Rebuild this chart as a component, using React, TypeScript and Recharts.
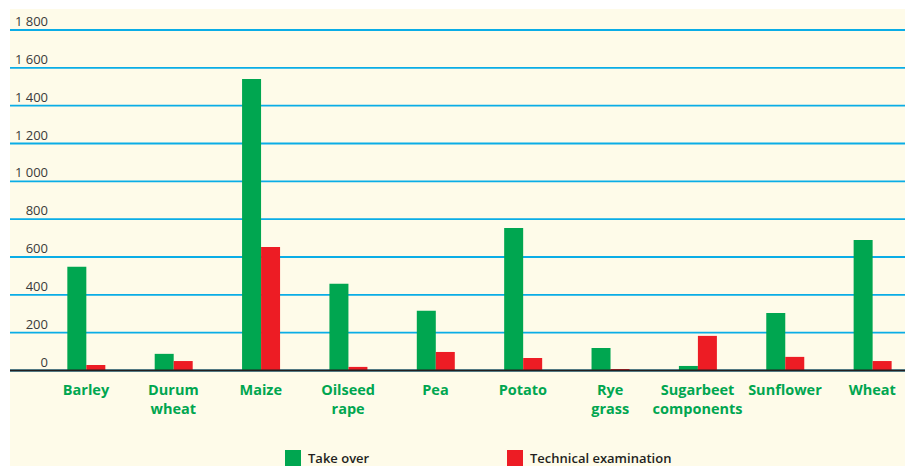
import React from 'react';
import { BarChart, Bar, XAxis, YAxis, CartesianGrid } from 'recharts';

const categories = [
  'Barley',
  'Durum\nwheat',
  'Maize',
  'Oilseed\nrape',
  'Pea',
  'Potato',
  'Rye\ngrass',
  'Sugarbeet\ncomponents',
  'Sunflower',
  'Wheat',
];
const takeOver = [549, 88, 1541, 458, 316, 753, 119, 24, 304, 690];
const technicalExamination = [29, 50, 653, 19, 98, 66, 8, 183, 72, 50];
const yTicks = [0, 200, 400, 600, 800, 1000, 1200, 1400, 1600, 1800];
const seriesNames = ['Take over', 'Technical examination'];

const GREEN = '#00A650';
const RED = '#ED1C24';
const BLUE = '#0AADE6';
const DARK = '#231F20';
const CREAM = '#FEFBE9';
const FONT = '"Open Sans", "DejaVu Sans", sans-serif';

const data = categories.map((c, i) => ({
  category: c,
  takeOver: takeOver[i],
  technical: technicalExamination[i],
}));

const fmt = (v: number) => {
  const s = String(v);
  if (s.length > 3) return s.slice(0, s.length - 3) + ' ' + s.slice(s.length - 3);
  return s;
};

const YTick = (props: any) => {
  const { y, payload } = props;
  return (
    <text x={48} y={y - 4} textAnchor="end" fontFamily={FONT} fontSize={13} fill="#3a3a3a">
      {fmt(payload.value)}
    </text>
  );
};

const XTick = (props: any) => {
  const { x, y, payload } = props;
  const lines = String(payload.value).split('\n');
  return (
    <text x={x} y={y} textAnchor="middle" fontFamily={FONT} fontSize={14.5} fontWeight={700} fill={GREEN}>
      {lines.map((l, i) => (
        <tspan key={i} x={x} dy={i === 0 ? 24.5 : 19}>
          {l}
        </tspan>
      ))}
    </text>
  );
};

export default function App() {
  return (
    <div
      style={{
        position: 'absolute',
        left: 0,
        top: 0,
        width: 905,
        height: 466,
        overflow: 'hidden',
        background: '#ffffff',
      }}
    >
      <div style={{ position: 'absolute', left: 10, top: 9, right: 0, bottom: 0, background: CREAM }} />
      <div style={{ position: 'absolute', left: 0, top: 0 }}>
        <BarChart
          width={916}
          height={466}
          data={data}
          margin={{ top: 30, right: 0, left: 0, bottom: 0 }}
          barGap={0}
        >
          <CartesianGrid vertical={false} stroke={BLUE} strokeWidth={1.8} />
          <YAxis
            width={10}
            domain={[0, 1800]}
            ticks={yTicks}
            axisLine={false}
            tickLine={false}
            tick={YTick}
            interval={0}
          />
          <XAxis
            dataKey="category"
            height={95.5}
            padding={{ left: 32.33, right: 0 }}
            axisLine={{ stroke: DARK, strokeWidth: 2 }}
            tickLine={false}
            tickSize={0}
            tickMargin={0}
            interval={0}
            tick={XTick}
          />
          <Bar dataKey="takeOver" name={seriesNames[0]} fill={GREEN} barSize={19} isAnimationActive={false} />
          <Bar dataKey="technical" name={seriesNames[1]} fill={RED} barSize={19} isAnimationActive={false} />
        </BarChart>
      </div>
      <div
        style={{
          position: 'absolute',
          left: 285,
          top: 450,
          width: 16,
          height: 16,
          background: GREEN,
        }}
      />
      <div
        style={{
          position: 'absolute',
          left: 308,
          top: 450,
          fontFamily: FONT,
          fontSize: 13,
          fontWeight: 600,
          color: DARK,
          lineHeight: '16px',
          whiteSpace: 'nowrap',
        }}
      >
        {seriesNames[0]}
      </div>
      <div
        style={{
          position: 'absolute',
          left: 507,
          top: 450,
          width: 16,
          height: 16,
          background: RED,
        }}
      />
      <div
        style={{
          position: 'absolute',
          left: 530,
          top: 450,
          fontFamily: FONT,
          fontSize: 13,
          fontWeight: 600,
          color: DARK,
          lineHeight: '16px',
          whiteSpace: 'nowrap',
        }}
      >
        {seriesNames[1]}
      </div>
    </div>
  );
}
